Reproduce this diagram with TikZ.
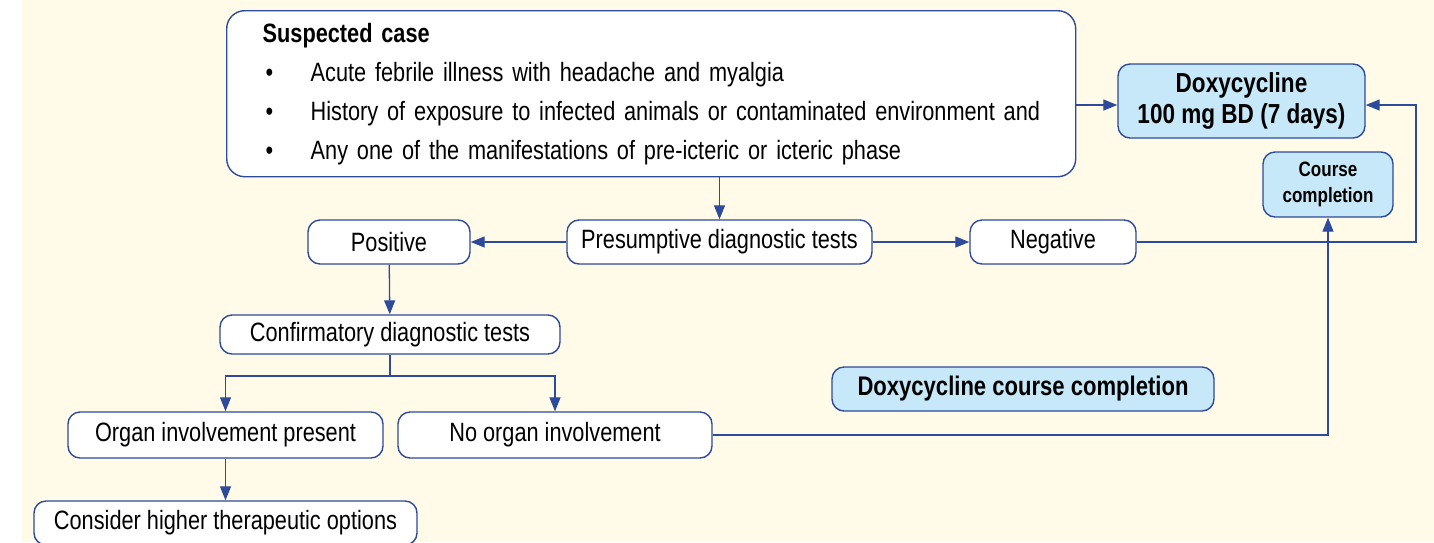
\documentclass[tikz,border=0pt]{standalone}
\usepackage{fontspec}
\setmainfont{Liberation Sans}[FakeStretch=0.82]
\usepackage{tikz}
\usetikzlibrary{arrows.meta}
\usetikzlibrary{positioning}
\definecolor{cream}{HTML}{FFFBE8}
\definecolor{edge}{HTML}{2D4A9B}
\definecolor{paleblue}{HTML}{C6E8F8}
\newcommand{\bul}{\makebox[48pt][l]{\hspace{3pt}\textbullet}}

\begin{document}
\begin{tikzpicture}[
      x=1pt, y=-1pt,
      box/.style ={rectangle, rounded corners=12pt, draw=edge, line width=1.4pt, fill=white,
                   inner sep=0pt, align=center, font=\fontsize{26.5}{31}\selectfont},
      drug/.style ={box, fill=paleblue, font=\fontsize{27.5}{31}\selectfont\bfseries},
      link/.style ={-{Triangle[length=14pt,width=11pt]}, draw=edge, line width=1.3pt},
      wire/.style ={draw=edge, line width=1.3pt}
    ]
    \useasboundingbox (0,0) rectangle (1434,542);
    \clip (0,0) rectangle (1434,542);
    \fill [cream] (22,0) rectangle (1434,542);

    \node [box, rounded corners=18pt, anchor=north west, minimum width=849pt, minimum height=166pt,
           text width=777pt, align=left, font=\fontsize{26.5}{39}\selectfont] (suspect) at (226,10)
      {\rule{0pt}{6pt}\textbf{Suspected case}\\
       \mbox{\bul Acute febrile illness with headache and myalgia}\\
       \mbox{\bul History of exposure to infected animals or contaminated environment and}\\
       \mbox{\bul Any one of the manifestations of pre-icteric or icteric phase}};
    \node [drug, minimum width=247pt, minimum height=74pt] (doxy) at (1241.5,101) {Doxycycline\\100 mg BD (7 days)};
    \node [drug, minimum width=130pt, minimum height=65pt, font=\fontsize{20.8}{26}\selectfont\bfseries] (course) at (1328,184.5) {Course\\completion};
    \node [box, minimum width=305pt, minimum height=44pt] (presump) at (719.5,242) {Presumptive diagnostic tests};
    \node [box, minimum width=162pt, minimum height=44pt] (positive) at (389,242) {Positive};
    \node [box, minimum width=166pt, minimum height=44pt] (negative) at (1053,242) {Negative};
    \node [box, minimum width=340pt, minimum height=39pt] (confirm) at (390,334.5) {Confirmatory diagnostic tests};
    \node [box, minimum width=315pt, minimum height=46pt] (organ) at (225.5,435) {Organ involvement present};
    \node [box, minimum width=314pt, minimum height=46pt] (noorgan) at (555,435) {No organ involvement};
    \node [box, minimum width=383pt, minimum height=44pt] (higher) at (225.5,523) {Consider higher therapeutic options};
    \node [drug, minimum width=382pt, minimum height=44pt, font=\fontsize{26.9}{31}\selectfont\bfseries] (coursedone) at (1023,389) {Doxycycline course completion};

    \coordinate (split) at (390,376);
    \coordinate (loopback) at (1416,242);
    \coordinate (doxyin) at ([yshift=-4pt]doxy.west);
    \coordinate (doxyback) at ([yshift=-4pt]doxy.east);

    \draw [link] (suspect.south -| presump) -- (presump);
    \draw [link] (suspect.east |- doxyin) -- (doxyin);
    \draw [link] (presump) -- (positive);
    \draw [link] (presump) -- (negative);
    \draw [link] (negative.east) -- (loopback) |- (doxyback);
    \draw [link] (positive) -- (confirm);
    \draw [wire] (confirm.south) -- (split);
    \draw [link] (split) -| (organ.north);
    \draw [link] (split) -| (noorgan.north);
    \draw [link] (organ) -- (higher);
    \draw [link] (noorgan.east) -| (course.south);
  \end{tikzpicture}
\end{document}
